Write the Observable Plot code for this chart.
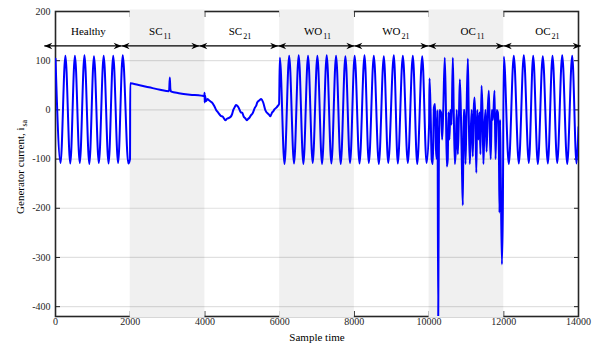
<!DOCTYPE html>
<html><head><meta charset="utf-8">
<script src="https://cdn.jsdelivr.net/npm/d3@7"></script>
<script src="https://cdn.jsdelivr.net/npm/@observablehq/plot@0.6"></script>
<style>body{margin:0;background:#fff}</style>
</head><body><div id="chart"></div>
<script>
// ---- data ----
const healthyT = [0, 135, 265, 395, 520, 650, 775, 905, 1030, 1160, 1290, 1420, 1545, 1675, 1800, 1950, 1995];
const healthyV = [104, -108, 110, -109, 110, -108, 111, -110, 109, -108, 110, -109, 110, -108, 111, -109, -100];

const sc11T = [2000, 2200, 2500, 2800, 3040, 3060, 3075, 3100, 3300, 3600, 3900, 3985, 3990, 3995, 4000];
const sc11V = [54, 51, 46, 41, 38, 66, 42, 37, 34, 31, 29, 28, 35, 15, 30];

const sc21T = [4030, 4070, 4100, 4150, 4190, 4250, 4300, 4360, 4420, 4480, 4550, 4590, 4620, 4690, 4730, 4760, 4800, 4830, 4870, 4900, 4960, 5000, 5040, 5080, 5120, 5160, 5190, 5230, 5270, 5340, 5370, 5400, 5450, 5510, 5560, 5620, 5690, 5720, 5750, 5800, 5830, 5860, 5920, 5950, 5985];
const sc21V = [18, 22, 20, 17, 15, 8, 0, -6, -12, -14, -21, -18, -17, -14, -8, 0, 6, 10, 8, 5, -5, -6, -14, -17, -21, -18, -16, -11, -8, 5, 8, 15, 19, 22, 15, -1, -8, -10, -13, -5, -3, 1, 5, 8, 12];

const wo11T = [6005, 6130, 6255, 6385, 6510, 6635, 6760, 6885, 7010, 7135, 7260, 7385, 7510, 7635, 7760, 7885];
const wo11V = [106, -110, 110, -109, 111, -110, 110, -108, 110, -110, 111, -109, 110, -110, 109, -108];

const wo21T = [8008, 8138, 8272, 8387, 8521, 8655, 8789, 8906, 9057, 9163, 9298, 9431, 9565, 9683, 9817, 9932];
const wo21V = [110, -109, 111, -108, 110, -110, 109, -108, 111, -109, 110, -108, 110, -110, 109, -108];

const oc11T = [10000, 10012, 10040, 10070, 10100, 10130, 10160, 10185, 10205, 10225, 10245, 10262, 10280, 10320, 10350, 10380, 10420, 10450, 10475, 10500, 10520, 10545, 10570, 10600, 10636, 10660, 10690, 10715, 10740, 10770, 10800, 10824, 10850, 10880, 10904, 10925, 10950, 10975, 11000, 11038, 11060, 11090, 11110, 11140, 11170, 11195, 11217, 11240, 11265, 11290, 11320, 11350, 11375, 11404, 11430, 11455, 11480, 11510, 11540, 11570, 11600, 11625, 11650, 11680, 11710, 11752, 11780, 11810, 11840, 11870, 11886, 11900, 11920, 11950, 11975];
const oc11V = [-30, 64, 0, -100, -110, 5, 12, -80, -100, 0, -430, -100, 0, -5, -60, 0, 106, 10, -115, -100, -5, -60, 0, -30, 106, 0, -110, -80, 0, -90, -10, 62, 0, -120, -194, 0, 0, -110, -20, 104, 0, -110, -60, 0, -95, 0, 25, -20, -128, 0, -60, -5, -90, 49, 0, -110, -40, 0, -85, 0, 39, -40, -100, 0, -20, 39, -100, 0, -5, -90, -209, -20, -140, -314, -200];

const oc21T = [12000, 12134, 12268, 12402, 12536, 12670, 12787, 12911, 13044, 13179, 13304, 13430, 13564, 13698, 13831, 13947, 14000];
const oc21V = [108, -110, 110, -109, 111, -108, 110, -110, 109, -109, 110, -108, 111, -110, 110, -109, -35];

const shadedStart = [2000, 6000, 10000];
const shadedEnd = [4000, 8000, 12000];

const labelMain = ["Healthy", "SC", "SC", "WO", "WO", "OC", "OC"];
const labelSub = ["", "11", "21", "11", "21", "11", "21"];
const labelX = [1346, 2865, 4998, 7140, 9236, 11252, 13252];
const arrowBounds = [-300, 1770, 3850, 5960, 8000, 9980, 12000, 14060];

const xTicks = [0, 2000, 4000, 6000, 8000, 10000, 12000, 14000];
const yTicks = [-400, -300, -200, -100, 0, 100, 200];
const gridTicks = [-400, -300, -200, -100, 0, 100];

const xLabel = "Sample time";
const yLabelMain = "Generator current, i";
const yLabelSub = "sa";

// ---- build tables ----
const series = [
  [healthyT, healthyV], [sc11T, sc11V], [sc21T, sc21V], [wo11T, wo11V],
  [wo21T, wo21V], [oc11T, oc11V], [oc21T, oc21V]
].flatMap(([T, V]) => T.map((t, i) => ({t, v: V[i]})));

const shaded = shadedStart.map((s, i) => ({x1: s, x2: shadedEnd[i]}));
const labels = labelMain.map((m, i) => ({x: labelX[i], main: m, sub: labelSub[i]}));
const arrows = d3.range(arrowBounds.length - 1).map(i => ({x1: arrowBounds[i], x2: arrowBounds[i + 1]}));

const arrowY = 130, labelY = 152;
const ink = "#262626";
const plain = d => String(d);

const headRight = {draw(c) { c.moveTo(0, 0); c.lineTo(-8, -3.3); c.lineTo(-5.5, 0); c.lineTo(-8, 3.3); c.closePath(); }};
const headLeft = {draw(c) { c.moveTo(0, 0); c.lineTo(8, -3.3); c.lineTo(5.5, 0); c.lineTo(8, 3.3); c.closePath(); }};

const chart = Plot.plot({
  width: 601, height: 345,
  marginLeft: 55, marginRight: 23, marginTop: 11, marginBottom: 29,
  style: {fontFamily: "'Times New Roman','Liberation Serif',serif", fontSize: "10px", color: ink, background: "#fff"},
  x: {domain: [0, 14000], axis: null},
  y: {domain: [-420, 200], axis: null},
  marks: [
    Plot.frame({stroke: ink, strokeWidth: 1.6}),
    Plot.axisY(yTicks, {anchor: "left", tickSize: -5, tickPadding: 10, tickFormat: plain, label: null, stroke: ink, fill: ink}),
    Plot.axisY(yTicks, {anchor: "right", tickSize: -5, label: null, stroke: ink, fill: "none"}),
    Plot.axisX(xTicks, {anchor: "bottom", tickSize: -5, tickPadding: 6.5, tickFormat: plain, label: null, stroke: ink, fill: ink}),
    Plot.axisX(xTicks, {anchor: "top", tickSize: -5, label: null, stroke: ink, fill: "none"}),
    Plot.rect(shaded, {x1: "x1", x2: "x2", fill: "#f0f0f0", insetTop: -1.5, insetBottom: -1.5}),
    Plot.gridY(gridTicks, {stroke: "#000", strokeOpacity: 0.12, strokeWidth: 1.2}),
    Plot.line(series, {x: "t", y: "v", stroke: "#0000ff", strokeWidth: 2, curve: "monotone-x", clip: true}),
    Plot.link(arrows, {x1: "x1", x2: "x2", y1: arrowY, y2: arrowY, stroke: "#000", strokeWidth: 1.3}),
    Plot.dot(arrows, {x: "x2", y: arrowY, symbol: headRight, fill: "#000", stroke: "none"}),
    Plot.dot(arrows, {x: "x1", y: arrowY, symbol: headLeft, fill: "#000", stroke: "none"}),
    Plot.text(labels, {x: "x", y: labelY, text: "main", textAnchor: "end", lineAnchor: "bottom", fontSize: 11, fill: "#000"}),
    Plot.text(labels, {x: "x", y: labelY, text: "sub", textAnchor: "start", lineAnchor: "bottom", dx: 1, dy: 3.8, fontSize: 8, fill: "#000"}),
    Plot.text([xLabel], {frameAnchor: "bottom", text: d => d, lineAnchor: "bottom", dy: 24.5, fontSize: 11, fill: "#000"}),
    Plot.text([yLabelMain], {frameAnchor: "left", text: d => d, rotate: -90, textAnchor: "end", lineAnchor: "bottom", dx: -32, dy: -36.5, fontSize: 11, fill: "#000"}),
    Plot.text([yLabelSub], {frameAnchor: "left", text: d => d, rotate: -90, textAnchor: "start", lineAnchor: "bottom", dx: -28.5, dy: -37.5, fontSize: 8, fill: "#000"})
  ]
});
document.getElementById("chart").appendChild(chart);
</script>
</body></html>
